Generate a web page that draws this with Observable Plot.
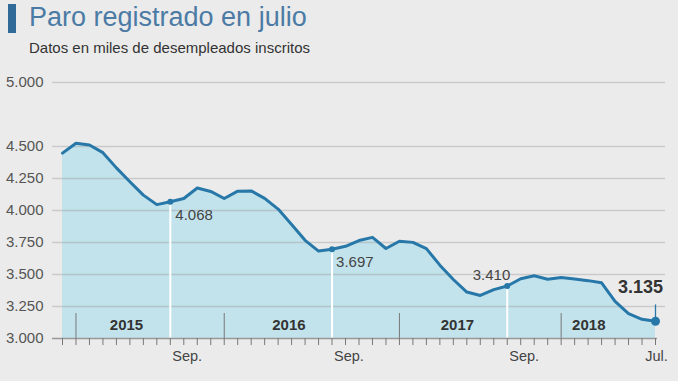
<!DOCTYPE html>
<html><head><meta charset="utf-8">
<script src="https://cdn.jsdelivr.net/npm/d3@7"></script>
<script src="https://cdn.jsdelivr.net/npm/@observablehq/plot@0.6"></script>
<style>
html,body{margin:0;padding:0;background:#ebebeb;}
#wrap{position:relative;width:678px;height:381px;overflow:hidden;font-family:"Liberation Sans",Arial,sans-serif;}
#bar{position:absolute;left:8px;top:4px;width:8px;height:29px;background:#2f6a98;}
#title{position:absolute;left:29px;top:4px;font-size:27px;line-height:27px;color:#4b7ba5;white-space:nowrap;}
#sub{position:absolute;left:29px;top:40px;font-size:15px;line-height:15px;color:#333;white-space:nowrap;}
#chart{position:absolute;left:0;top:62px;}
</style></head><body>
<div id="wrap">
  <div id="bar"></div>
  <div id="title">Paro registrado en julio</div>
  <div id="sub">Datos en miles de desempleados inscritos</div>
  <div id="chart"></div>
</div>
<script>
// Paro registrado, miles (one value per monthly tick, Dec 2014 -> Jul 2018 as drawn)
const paro = [4448, 4526, 4512, 4452, 4333, 4225, 4120, 4046, 4068, 4094, 4176, 4149,
              4094, 4151, 4153, 4095, 4011, 3891, 3767, 3683, 3697, 3720, 3765, 3790,
              3703, 3760, 3751, 3702, 3573, 3461, 3363, 3336, 3382, 3410, 3467, 3490,
              3463, 3476, 3465, 3452, 3435, 3290, 3195, 3150, 3135];
const yTicks = [3000, 3250, 3500, 3750, 4000, 4250, 4500, 5000];
const xLabelIdx = [8, 20, 33, 44];
const xLabelText = ["Sep.", "Sep.", "Sep.", "Jul."];
const years = ["2015", "2016", "2017", "2018"];
const yearPos = [4.75, 16.8, 29.3, 39.05];
const yearSep = [1, 12, 25, 37];
const hiIdx = [8, 20, 33];
const lastIdx = 44;

const fmt = d3.formatLocale({decimal: ",", thousands: ".", grouping: [3], currency: ["", "€"]}).format(",d");
const data = paro.map((v, i) => ({i, v}));
const hi = hiIdx.map(i => data[i]);
const last = [data[lastIdx]];
const xLabels = xLabelIdx.map((i, k) => ({i, t: xLabelText[k]}));
const yearLabels = years.map((t, k) => ({i: yearPos[k], t}));

const blue = "#2778a8";
const font = "Liberation Sans, Arial, sans-serif";

const chart = Plot.plot({
  width: 678, height: 319,
  marginLeft: 62, marginRight: 23, marginTop: 20, marginBottom: 43,
  style: {background: "transparent", fontFamily: font, overflow: "visible"},
  x: {type: "linear", domain: [0, paro.length - 1], axis: null, label: null},
  y: {domain: [3000, 5000], axis: null, label: null},
  marks: [
    Plot.areaY(data, {x: "i", y1: 3000, y2: "v", fill: "#c2e3ec"}),
    Plot.ruleY(yTicks.filter(d => d > 3000), {stroke: "#999", strokeOpacity: 0.4, strokeWidth: 1.5, insetLeft: -10, insetRight: -10}),
    Plot.text(yTicks, {y: d => d, frameAnchor: "left", text: d => fmt(d), textAnchor: "end", dx: -19, fontSize: 15, fill: "#555"}),
    Plot.ruleX(hi, {x: "i", y1: 3000, y2: "v", stroke: "white", strokeWidth: 2}),
    Plot.ruleX(yearSep, {x: d => d, y1: 3000, y2: 3195, stroke: "#777", strokeWidth: 1}),
    Plot.ruleY([3000], {stroke: "#999", strokeWidth: 1.5, insetLeft: -10, insetRight: -2}),
    Plot.axisX(data.map(d => d.i), {anchor: "bottom", label: null, tickSize: 7, tickFormat: () => "", stroke: "#777", strokeWidth: 1}),
    Plot.text(yearLabels, {x: "i", text: "t", frameAnchor: "bottom", dy: -13, lineAnchor: "middle", fontSize: 15, fontWeight: "bold", fill: "#333"}),
    Plot.text(xLabels.filter(d => d.i !== lastIdx), {x: "i", text: "t", frameAnchor: "bottom", dy: 18, dx: 2, lineAnchor: "middle", textAnchor: "start", fontSize: 14.5, fill: "#444"}),
    Plot.text(xLabels.filter(d => d.i === lastIdx), {x: "i", text: "t", frameAnchor: "bottom", dy: 18, dx: 1, lineAnchor: "middle", textAnchor: "middle", fontSize: 14.5, fill: "#444"}),
    Plot.ruleX(last, {x: "i", y1: "v", y2: 3262, stroke: blue, strokeWidth: 1.3}),
    Plot.line(data, {x: "i", y: "v", stroke: blue, strokeWidth: 3, strokeLinejoin: "round"}),
    Plot.dot(hi, {x: "i", y: "v", r: 3, fill: blue}),
    Plot.dot(last, {x: "i", y: "v", r: 4.5, fill: blue}),
    Plot.text([data[hiIdx[0]]], {x: "i", y: "v", text: d => fmt(d.v), dx: 5, dy: 13, lineAnchor: "middle", textAnchor: "start", fontSize: 15, fill: "#444"}),
    Plot.text([data[hiIdx[1]]], {x: "i", y: "v", text: d => fmt(d.v), dx: 4, dy: 13, lineAnchor: "middle", textAnchor: "start", fontSize: 15, fill: "#444"}),
    Plot.text([data[hiIdx[2]]], {x: "i", y: "v", text: d => fmt(d.v), dx: 3, dy: -11, lineAnchor: "middle", textAnchor: "end", fontSize: 15, fill: "#444"}),
    Plot.text(last, {x: "i", y: "v", text: d => fmt(d.v), dx: -15, dy: -34, lineAnchor: "middle", textAnchor: "middle", fontSize: 18, fontWeight: "bold", fill: "#333"})
  ]
});
document.getElementById("chart").appendChild(chart);
</script>
</body></html>
